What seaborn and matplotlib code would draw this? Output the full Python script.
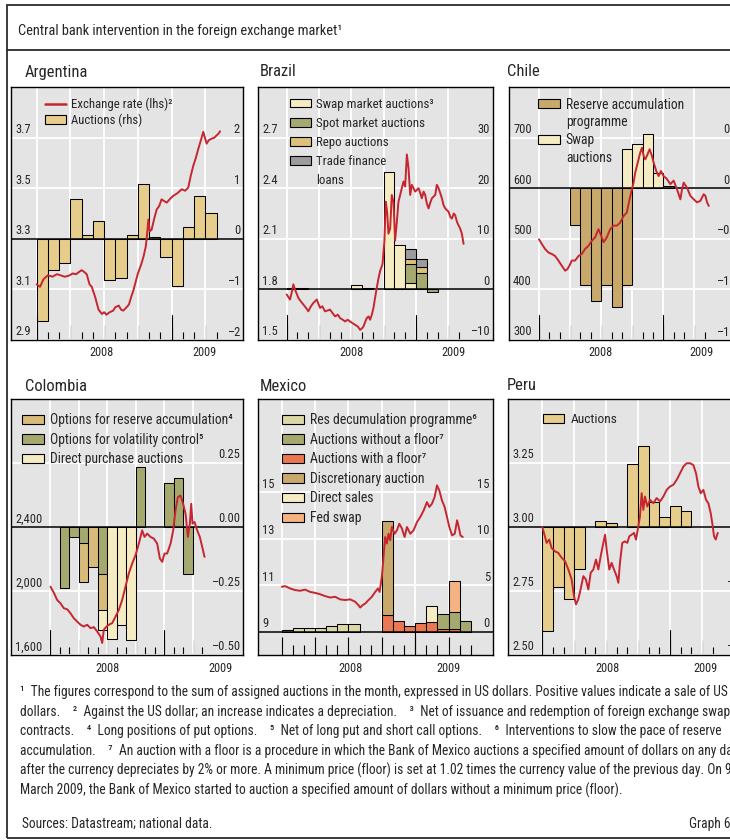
import numpy as np
import matplotlib
matplotlib.use("Agg")
import matplotlib.pyplot as plt
import matplotlib.transforms as mtransforms
from matplotlib.patches import Patch, Rectangle
from matplotlib.lines import Line2D
from matplotlib import font_manager
import seaborn as sns

# ---------------------------------------------------------------- data
# x values are months counted from January 2008 (0 = Jan 2008)

# Argentina: peso per US dollar (lhs) and monthly auctions, USD bn (rhs)
ar_t = [0, 0.3, 0.6, 1.0, 1.4, 1.8, 2.1, 2.5, 2.9, 3.2,
        3.5, 3.8, 4.0, 4.2, 4.45, 4.7, 4.9, 5.2, 5.5, 5.8,
        6.0, 6.2, 6.5, 6.8, 7.0, 7.3, 7.5, 7.7, 8.0, 8.2,
        8.4, 8.6, 8.8, 9.0, 9.3, 9.5, 9.7, 9.8, 9.93, 10.05,
        10.22, 10.45, 10.67, 10.9, 11.1, 11.3, 11.56, 11.9, 12.15, 12.5,
        12.9, 13.2, 13.48, 13.7, 13.93, 14.15, 14.37, 14.6, 14.81, 14.95,
        15.11, 15.3, 15.56, 15.8, 16.0, 16.15, 16.3]
ar_fx = [3.12, 3.11, 3.14, 3.156, 3.15, 3.16, 3.156, 3.15, 3.155, 3.163,
         3.16, 3.17, 3.176, 3.17, 3.16, 3.12, 3.11, 3.07, 3.02, 3.003,
         3.01, 3.0, 3.01, 3.016, 3.03, 3.036, 3.02, 3.016, 3.03, 3.04,
         3.07, 3.096, 3.13, 3.163, 3.2, 3.23, 3.27, 3.31, 3.376, 3.33,
         3.336, 3.38, 3.416, 3.43, 3.456, 3.45, 3.443, 3.46, 3.47, 3.48,
         3.496, 3.49, 3.503, 3.55, 3.59, 3.62, 3.656, 3.69, 3.723, 3.70,
         3.676, 3.69, 3.696, 3.70, 3.709, 3.715, 3.725]
ar_months = list(range(16))
ar_auctions = [-1.63, -0.62, -0.47, 0.78, 0.08, 0.35, -0.81, -0.77,
               0.08, 1.08, 0.03, -0.35, -0.94, 0.23, 0.85, 0.51]

# Brazil: real per US dollar (lhs) and interventions, USD bn (rhs)
br_t = [0, 0.31, 0.5, 0.62, 0.77, 1.08, 1.3, 1.55, 1.8, 2.01,
        2.25, 2.48, 2.79, 3.1, 3.3, 3.56, 4.02, 4.25, 4.49, 4.75,
        4.95, 5.2, 5.42, 5.65, 5.88, 6.1, 6.35, 6.6, 6.81, 7.0,
        7.12, 7.3, 7.43, 7.6, 7.74, 7.9, 8.05, 8.2, 8.36, 8.5,
        8.67, 8.89, 9.07, 9.19, 9.32, 9.44, 9.6, 9.75, 9.91, 10.06,
        10.22, 10.37, 10.53, 10.68, 10.84, 10.99, 11.15, 11.3, 11.46, 11.61,
        11.92, 12.23, 12.4, 12.54, 12.7, 12.85, 13.0, 13.16, 13.3, 13.47,
        13.78, 13.93, 14.09, 14.25, 14.4, 14.55, 14.71, 15.02, 15.18, 15.33,
        15.5, 15.63, 15.8, 15.94, 16.1, 16.25, 16.41]
br_fx = [1.77, 1.74, 1.79, 1.83, 1.80, 1.75, 1.73, 1.71, 1.69, 1.67,
         1.70, 1.72, 1.74, 1.69, 1.70, 1.67, 1.68, 1.66, 1.64, 1.65,
         1.63, 1.62, 1.61, 1.62, 1.61, 1.60, 1.59, 1.58, 1.56, 1.57,
         1.58, 1.61, 1.63, 1.64, 1.62, 1.65, 1.69, 1.75, 1.81, 1.86,
         1.91, 1.95, 2.09, 2.32, 2.26, 2.13, 2.16, 2.36, 2.32, 2.09,
         2.20, 2.32, 2.36, 2.40, 2.44, 2.41, 2.60, 2.52, 2.36, 2.42,
         2.38, 2.40, 2.37, 2.34, 2.38, 2.36, 2.31, 2.28, 2.31, 2.34,
         2.36, 2.42, 2.40, 2.37, 2.34, 2.30, 2.28, 2.26, 2.23, 2.22,
         2.25, 2.24, 2.20, 2.18, 2.16, 2.13, 2.07]
br_months = list(range(14))
br_swap = [0, 0, 0, 0, 0, 0, 0.85, 0, 0, 23.3, 8.8, 1.2, 0, 0]
br_spot = [0.3, 0.3, 0, 0, 0, 0, 0, 0.25, 0, 0, 0, 3.75, 3.3, -0.45]
br_repo = [0, 0, 0, 0, 0, 0, 0, 0, 0, 0, 0, 1.0, 1.2, 0]
br_trade = [0, 0, 0, 0, 0, 0, 0, 0, 0, 0, 0, 2.0, 1.6, 0]

# Chile: peso per US dollar (lhs) and interventions, USD bn (rhs)
cl_t = [0, 0.26, 0.58, 0.9, 1.23, 1.55, 1.87, 2.19, 2.52, 2.74,
        2.94, 3.16, 3.48, 3.81, 4.13, 4.45, 4.77, 5.1, 5.42, 5.74,
        6.0, 6.23, 6.55, 6.87, 7.19, 7.52, 7.84, 8.16, 8.48, 8.74,
        8.97, 9.13, 9.29, 9.45, 9.61, 9.77, 9.94, 10.1, 10.26, 10.42,
        10.68, 10.9, 11.06, 11.32, 11.55, 11.77, 12.03, 12.35, 12.68, 13.0,
        13.32, 13.65, 13.81, 13.97, 14.29, 14.61, 14.94, 15.26, 15.58, 15.9,
        16.06, 16.23, 16.39]
cl_fx = [499, 490, 480, 473, 470, 466, 457, 447, 437, 440,
         447, 457, 457, 466, 470, 480, 486, 496, 503, 519,
         506, 493, 503, 519, 526, 526, 532, 545, 552, 578,
         598, 611, 631, 644, 657, 670, 680, 664, 657, 664,
         677, 664, 651, 634, 624, 634, 624, 618, 608, 615,
         598, 578, 598, 611, 601, 585, 578, 572, 575, 588,
         585, 572, 565]
cl_months = list(range(14))
cl_reserve = [0, 0, 0, -0.365, -0.96, -1.11, -0.96, -1.17, -0.96, 0, 0, 0, 0, 0]
cl_swap = [0, 0, 0, 0, 0, 0, 0, 0, 0.385, 0.44, 0.54, 0.155, 0.02, 0]

# Colombia: peso per US dollar (lhs) and interventions, USD bn (rhs)
co_t = [0, 0.35, 0.7, 1.06, 1.41, 1.76, 2.11, 2.46, 2.82, 3.17,
        3.52, 3.87, 4.23, 4.58, 4.93, 5.28, 5.46, 5.63, 5.92, 6.16,
        6.51, 6.87, 7.22, 7.57, 7.92, 8.27, 8.63, 8.98, 9.33, 9.68,
        9.93, 10.21, 10.56, 10.92, 11.27, 11.55, 11.8, 12.04, 12.32, 12.68,
        12.96, 13.2, 13.45, 13.73, 14.01, 14.26, 14.51, 14.72, 14.86, 15.0,
        15.21, 15.49, 15.77, 16.02, 16.27]
co_fx = [2027, 1990, 1944, 1923, 1892, 1886, 1861, 1830, 1809, 1789,
         1778, 1789, 1768, 1774, 1747, 1716, 1675, 1758, 1778, 1789,
         1799, 1840, 1882, 1944, 2027, 2110, 2172, 2224, 2296, 2379,
         2338, 2359, 2338, 2327, 2296, 2203, 2182, 2234, 2234, 2296,
         2379, 2504, 2587, 2597, 2545, 2483, 2338, 2421, 2545, 2421,
         2431, 2379, 2338, 2276, 2213]
co_months = list(range(15))
co_volatility = [0, -0.24, -0.039, -0.062, 0, -0.182, 0, 0, 0, 0.234,
                 0, 0, 0.171, 0.191, -0.182]
co_reserve = [0, 0, 0, -0.152, -0.156, -0.143, 0, 0, 0, 0, 0, 0, 0, 0, 0]
co_direct = [0, 0, 0, 0, 0, -0.078, -0.439, -0.383, -0.442, 0, 0, 0, 0, 0, 0]

# Mexico: peso per US dollar (lhs) and interventions, USD bn (rhs)
mx_t = [0, 0.3, 0.75, 1.2, 1.65, 2.1, 2.55, 3.0, 3.45, 3.9,
        4.35, 4.8, 5.25, 5.7, 6.15, 6.6, 6.9, 7.05, 7.27, 7.5,
        7.8, 8.1, 8.4, 8.65, 8.8, 9.0, 9.15, 9.3, 9.45, 9.6,
        9.75, 9.9, 10.15, 10.36, 10.57, 10.81, 11.05, 11.26, 11.56, 11.86,
        12.16, 12.46, 12.76, 13.06, 13.27, 13.51, 13.75, 13.96, 14.17, 14.41,
        14.65, 14.86, 15.07, 15.32, 15.56, 15.77, 15.92, 16.07, 16.28]
mx_fx = [10.93, 10.96, 10.86, 10.79, 10.76, 10.81, 10.71, 10.67, 10.61, 10.53,
         10.47, 10.5, 10.39, 10.36, 10.39, 10.29, 10.14, 10.04, 10.14, 10.21,
         10.36, 10.5, 10.71, 10.86, 10.71, 11.36, 12.21, 13.07, 12.79, 13.21,
         12.93, 13.5, 13.21, 13.36, 13.64, 13.43, 13.07, 13.5, 13.21, 13.36,
         13.71, 13.93, 14.21, 14.57, 14.36, 14.5, 14.79, 15.29, 15.07, 14.64,
         14.36, 13.93, 13.5, 13.14, 13.21, 13.79, 13.5, 13.14, 13.07]
mx_months = list(range(17))
mx_with_floor = [0, 0, 0, 0, 0, 0, 0, 0, 0, 1.85, 1.1, 0.6, 0.95, 1.05, 0.25, 0.25, 0]
mx_res_decum = [0.18, 0.43, 0.43, 0.43, 0.6, 0.82, 0.82, 0, 0, 0, 0, 0, 0, 0, 0, 0, 0]
mx_without_floor = [0, 0, 0, 0, 0, 0, 0, 0, 0, 0, 0, 0, 0, 0, 1.7, 1.9, 1.15]
mx_discretionary = [0, 0, 0, 0, 0, 0, 0, 0, 0, 10.0, 0, 0, 0, 0, 0, 0, 0]
mx_direct_sales = [0, 0, 0, 0, 0, 0, 0, 0, 0, 0, 0, 0, 0, 1.75, 0, 0, 0]
mx_fed_swap = [0, 0, 0, 0, 0, 0, 0, 0, 0, 0, 0, 0, 0, 0, 0, 3.35, 0]

# Peru: new sol per US dollar (lhs) and auctions, USD bn (rhs)
pe_t = [0, 0.16, 0.41, 0.66, 0.88, 1.19, 1.5, 1.82, 2.13, 2.45,
        2.76, 2.98, 3.17, 3.39, 3.6, 3.86, 4.1, 4.33, 4.55, 4.8,
        5.05, 5.27, 5.49, 5.74, 5.9, 6.05, 6.3, 6.52, 6.74, 6.99,
        7.15, 7.3, 7.52, 7.77, 7.99, 8.18, 8.4, 8.62, 8.81, 9.03,
        9.18, 9.34, 9.5, 9.65, 9.87, 10.13, 10.44, 10.75, 11.07, 11.38,
        11.69, 12.0, 12.32, 12.63, 12.95, 13.26, 13.57, 13.89, 14.2, 14.45,
        14.67, 14.89, 15.14, 15.39, 15.61, 15.83, 16.02, 16.14, 16.3, 16.49]
pe_fx = [3.0, 2.977, 2.938, 2.951, 2.918, 2.905, 2.899, 2.88, 2.867, 2.834,
         2.795, 2.73, 2.698, 2.718, 2.756, 2.808, 2.795, 2.756, 2.821, 2.834,
         2.873, 2.834, 2.886, 2.938, 2.97, 2.912, 2.834, 2.86, 2.834, 2.808,
         2.782, 2.86, 2.938, 2.944, 2.938, 2.964, 2.97, 2.977, 2.951, 3.003,
         3.041, 3.132, 3.067, 3.119, 3.08, 3.106, 3.093, 3.113, 3.1, 3.119,
         3.145, 3.158, 3.165, 3.184, 3.21, 3.236, 3.249, 3.249, 3.242, 3.21,
         3.158, 3.132, 3.145, 3.106, 3.093, 3.054, 3.003, 2.964, 2.951, 2.977]
pe_months = list(range(14))
pe_auctions = [-1.62, -0.93, -1.12, -0.66, 0, 0.088, 0.062, 0, 0.99, 1.26,
               0.383, 0.15, 0.332, 0.244]

# axis tick values (left = exchange rate, right = interventions)
ar_lticks, ar_rticks = [3.7, 3.5, 3.3, 3.1, 2.9], [2, 1, 0, -1, -2]
br_lticks, br_rticks = [2.7, 2.4, 2.1, 1.8, 1.5], [30, 20, 10, 0, -10]
cl_lticks, cl_rticks = [700, 600, 500, 400, 300], [0.5, 0.0, -0.5, -1.0, -1.5]
co_lticks, co_rticks = [2400, 2000, 1600], [0.25, 0.0, -0.25, -0.5]
mx_lticks, mx_rticks = [15, 13, 11, 9], [15, 10, 5, 0]
pe_lticks, pe_rticks = [3.25, 3.0, 2.75, 2.5], [1, 0, -1, -2]
year_labels = ["2008", "2009"]

TITLE = "Central bank intervention in the foreign exchange market\u00b9"
FOOTNOTES = [
    "\u00b9  The figures correspond to the sum of assigned auctions in the month, expressed in US dollars. Positive values indicate a sale of US",
    "dollars.    \u00b2  Against the US dollar; an increase indicates a depreciation.    \u00b3  Net of issuance and redemption of foreign exchange swap",
    "contracts.    \u2074  Long positions of put options.    \u2075  Net of long put and short call options.    \u2076  Interventions to slow the pace of reserve",
    "accumulation.    \u2077  An auction with a floor is a procedure in which the Bank of Mexico auctions a specified amount of dollars on any day",
    "after the currency depreciates by 2% or more. A minimum price (floor) is set at 1.02 times the currency value of the previous day. On 9",
    "March 2009, the Bank of Mexico started to auction a specified amount of dollars without a minimum price (floor).",
]
SOURCES = "Sources: Datastream; national data."
GRAPH_NO = "Graph 6"

# ---------------------------------------------------------------- style
sns.set_style("white")
_installed = {f.name for f in font_manager.fontManager.ttflist}
FAMILY, K = "Liberation Sans", 0.82
for cand, k in (("Roboto Condensed", 1.0), ("Liberation Sans Narrow", 0.96),
                ("Arial Narrow", 0.96), ("Open Sans Condensed", 0.96)):
    if cand in _installed:
        FAMILY, K = cand, k
        break
plt.rcParams["font.family"] = [FAMILY, "DejaVu Sans"]

FS_TITLE, FS_PANEL = 10.4 * K, 11.9 * K
FS_TICK, FS_YEAR, FS_FOOT = 9.0 * K, 8.8 * K, 9.75 * K

RED = "#c62630"
BG = "#e4e4e4"
TAN = "#e6cd8c"
CREAM = "#f6ecc4"
OLIVE = "#a6a96f"
REPO = "#dcc07c"
GREY = "#9c9c9c"
DARKTAN = "#c8a96b"
OPT_TAN = "#d8bb7b"
KHAKI = "#dcd8a6"
FLOOR = "#ea7752"
PEACH = "#f5b283"

W, H = 730, 840
fig = plt.figure(figsize=(W / 100, H / 100), dpi=100)
fig.patch.set_facecolor("white")


def fmt_num(v, spec):
    return format(v, spec).replace("-", "\u2013")


PANELS = [
    dict(name="Argentina", box=(11, 87, 243, 340), title_px=(25, 72),
         xlim=(-2.28, 18.34), last_tick=16, llim=(2.9, 3.9), rlim=(-2, 3),
         lt=ar_lticks, rt=ar_rticks, lfmt=".1f", rfmt="d",
         line=(ar_t, ar_fx), months=ar_months,
         bars=[(ar_auctions, TAN)], years=(5.75, 14.9),
         legend=[("Exchange rate (lhs)\u00b2", "line"), ("Auctions (rhs)", TAN)],
         leg_at=(0.147, 0.958), leg_fs=9.2, leg_sp=0.2),
    dict(name="Brazil", box=(258, 87, 493, 340), title_px=(260, 72),
         xlim=(-2.66, 19.14), last_tick=16, llim=(1.5, 3.0), rlim=(-10, 40),
         lt=br_lticks, rt=br_rticks, lfmt=".1f", rfmt="d",
         line=(br_t, br_fx), months=br_months,
         bars=[(br_swap, CREAM), (br_spot, OLIVE), (br_repo, REPO), (br_trade, GREY)],
         years=(6.0, 15.5),
         legend=[("Swap market auctions\u00b3", CREAM), ("Spot market auctions", OLIVE),
                 ("Repo auctions", REPO), ("Trade finance", GREY), ("loans", None)],
         leg_at=(0.136, 0.958), leg_fs=9.3, leg_sp=0.48),
    dict(name="Chile", box=(509, 87, 742, 340), title_px=(507, 72),
         xlim=(-2.9, 19.6), last_tick=16, llim=(300, 800), rlim=(-1.5, 1.0),
         lt=cl_lticks, rt=cl_rticks, lfmt="d", rfmt=".1f",
         line=(cl_t, cl_fx), months=cl_months,
         bars=[(cl_reserve, DARKTAN), (cl_swap, CREAM)], years=(5.9, 15.7),
         legend=[("Reserve accumulation", DARKTAN), ("programme", None),
                 ("Swap", CREAM), ("auctions", None)],
         leg_at=(0.124, 0.958), leg_fs=9.8, leg_sp=0.27),
    dict(name="Colombia", box=(11, 399, 243, 655), title_px=(25, 387),
         xlim=(-4.17, 20.33), last_tick=16, llim=(1600, 3200), rlim=(-0.5, 0.5),
         lt=co_lticks, rt=co_rticks, lfmt=",d", rfmt=".2f",
         line=(co_t, co_fx), months=co_months,
         bars=[(co_volatility, OLIVE), (co_reserve, OPT_TAN), (co_direct, CREAM)],
         years=(6.07, 17.9),
         legend=[("Options for reserve accumulation\u2074", OPT_TAN),
                 ("Options for volatility control\u2075", OLIVE),
                 ("Direct purchase auctions", CREAM)],
         leg_at=(0.047, 0.944), leg_fs=9.8, leg_sp=0.4),
    dict(name="Mexico", box=(258, 399, 493, 655), title_px=(260, 387),
         xlim=(-2.14, 19.0), last_tick=17, llim=(8, 19), rlim=(-2.5, 25),
         lt=mx_lticks, rt=mx_rticks, lfmt="d", rfmt="d",
         line=(mx_t, mx_fx), months=mx_months,
         bars=[(mx_with_floor, FLOOR), (mx_res_decum, KHAKI), (mx_without_floor, OLIVE),
               (mx_discretionary, DARKTAN), (mx_direct_sales, CREAM), (mx_fed_swap, PEACH)],
         years=(6.2, 15.0), strip=True,
         legend=[("Res decumulation programme\u2076", KHAKI),
                 ("Auctions without a floor\u2077", OLIVE),
                 ("Auctions with a floor\u2077", FLOOR),
                 ("Discretionary auction", DARKTAN),
                 ("Direct sales", CREAM), ("Fed swap", PEACH)],
         leg_at=(0.102, 0.944), leg_fs=9.95, leg_sp=0.4),
    dict(name="Peru", box=(508, 399, 742, 655), title_px=(507, 386),
         xlim=(-3.22, 18.77), last_tick=16, llim=(2.5, 3.5), rlim=(-2, 2),
         lt=pe_lticks, rt=pe_rticks, lfmt=".2f", rfmt="d",
         line=(pe_t, pe_fx), months=pe_months,
         bars=[(pe_auctions, TAN)], years=(6.1, 15.3),
         legend=[("Auctions", TAN)],
         leg_at=(0.15, 0.944), leg_fs=9.6, leg_sp=0.4),
]


def draw_panel(p):
    l, t, r, b = p["box"]
    h_px = b - t
    ax = fig.add_axes([l / W, 1 - b / H, (r - l) / W, h_px / H])
    ax.set_facecolor(BG)
    tw = ax.twinx()
    strip = p.get("strip", False)

    # stacked monthly bars on the right-hand scale
    months = np.asarray(p["months"], float)
    pos = np.zeros(len(months))
    neg = np.zeros(len(months))
    for vals, color in p["bars"]:
        vals = np.asarray(vals, float)
        base = np.where(vals >= 0, pos, neg)
        keep = vals != 0
        ax.bar(months[keep], vals[keep], bottom=base[keep], width=1.0, align="edge",
               color=color, edgecolor="black", linewidth=0.75, zorder=2)
        pos += np.clip(vals, 0, None)
        neg += np.clip(vals, None, 0)

    # exchange rate on the left-hand scale
    t_vals, fx_vals = p["line"]
    sns.lineplot(x=t_vals, y=fx_vals, ax=tw, color=RED, linewidth=1.4,
                 estimator=None, sort=False, legend=False, zorder=3)
    tw.set_xlabel("")
    tw.set_ylabel("")

    ax.set_xlim(*p["xlim"])
    ax.set_ylim(*p["rlim"])
    tw.set_ylim(*p["llim"])

    # grid: white lines at the labelled levels and every quarter
    quarters = [q for q in range(0, 16, 3)]
    hgrid = [v for v in p["rt"] if v != 0]
    ax.hlines(hgrid, *p["xlim"], colors="white", linewidth=1.3, zorder=0.6)
    vfloor = 0 if strip else p["rlim"][0]
    ax.vlines(quarters, vfloor, p["rlim"][1], colors="white", linewidth=1.3, zorder=0.6)
    ax.axhline(0, color="black", linewidth=1.1, zorder=2.5)

    # month / quarter / year tick marks pointing into the plot
    all_months = list(range(0, p["last_tick"] + 1))
    ax.set_xticks([m for m in all_months if m % 3 == 0])
    ax.set_xticks(all_months, minor=True)
    short, med = (7.5, 13.0) if strip else (5.8, 11.0)
    ax.tick_params(axis="x", which="major", direction="in", length=med, width=0.8,
                   color="black", bottom=True, top=False, labelbottom=False)
    ax.tick_params(axis="x", which="minor", direction="in", length=short, width=0.8,
                   color="black", bottom=True, top=False)
    ax.tick_params(axis="y", left=False, right=False, labelleft=False, labelright=False)
    tw.tick_params(axis="y", left=False, right=False, labelleft=False, labelright=False)
    if strip:
        frac = (0 - p["rlim"][0]) / (p["rlim"][1] - p["rlim"][0])
        ax.axvline(12, 0, frac, color="black", linewidth=0.8, zorder=3)
    else:
        for m in (0, 12):
            ax.axvline(m, 0, 25 / h_px, color="black", linewidth=0.8, zorder=3)

    for s in ax.spines.values():
        s.set_visible(True)
        s.set_color("black")
        s.set_linewidth(1.0)
        s.set_zorder(4)
    for s in tw.spines.values():
        s.set_visible(False)

    # value labels sitting just above their grid lines, inside the frame
    ltr = mtransforms.offset_copy(tw.get_yaxis_transform(), fig=fig, x=4, y=4.5, units="dots")
    for v in p["lt"]:
        tw.text(0, v, fmt_num(v, p["lfmt"]), transform=ltr, ha="left", va="baseline",
                fontsize=FS_TICK)
    rtr = mtransforms.offset_copy(ax.get_yaxis_transform(), fig=fig, x=-3, y=4.5, units="dots")
    for v in p["rt"]:
        ax.text(1, v, fmt_num(v, p["rfmt"]), transform=rtr, ha="right", va="baseline",
                fontsize=FS_TICK)

    # year labels under the axis
    ytr = mtransforms.offset_copy(ax.get_xaxis_transform(), fig=fig, y=-13, units="dots")
    for m, lab in zip(p["years"], year_labels):
        ax.text(m, 0, lab, transform=ytr, ha="center", va="center", fontsize=FS_YEAR,
                clip_on=False)

    # legend
    handles, labels = [], []
    for lab, col in p["legend"]:
        if col == "line":
            handles.append(Line2D([], [], color=RED, linewidth=1.8))
        elif col is None:
            handles.append(Patch(facecolor="none", edgecolor="none"))
        else:
            handles.append(Patch(facecolor=col, edgecolor="black", linewidth=0.8))
        labels.append(lab)
    tw.legend(handles, labels, loc="upper left", bbox_to_anchor=p["leg_at"],
              bbox_transform=ax.transAxes, frameon=False, fontsize=p["leg_fs"] * K,
              handlelength=1.6, handleheight=0.65, handletextpad=0.45,
              labelspacing=p["leg_sp"], borderpad=0, borderaxespad=0)

    tx, ty = p["title_px"]
    fig.text(tx / W, 1 - ty / H, p["name"], fontsize=FS_PANEL, ha="left", va="center")


for panel in PANELS:
    draw_panel(panel)

# outer frame and title box
fig.add_artist(Rectangle((7 / W, 1 - 838 / H), 740 / W, 833 / H, fill=False,
                         edgecolor="#2b2b2b", linewidth=1.3, transform=fig.transFigure))
fig.add_artist(Line2D([7 / W, 1.02], [1 - 50 / H, 1 - 50 / H], color="#2b2b2b",
                      linewidth=1.3, transform=fig.transFigure))
fig.text(18 / W, 1 - 31 / H, TITLE, fontsize=FS_TITLE, ha="left", va="center")

# footnotes
for i, line in enumerate(FOOTNOTES):
    fig.text(20 / W, 1 - (692 + 19.6 * i) / H, line, fontsize=FS_FOOT, ha="left", va="center")
fig.text(22 / W, 1 - 824 / H, SOURCES, fontsize=FS_FOOT, ha="left", va="center")
fig.text(689 / W, 1 - 824 / H, GRAPH_NO, fontsize=FS_FOOT, ha="left", va="center")

fig.savefig("out.png", dpi=100, facecolor="white")
